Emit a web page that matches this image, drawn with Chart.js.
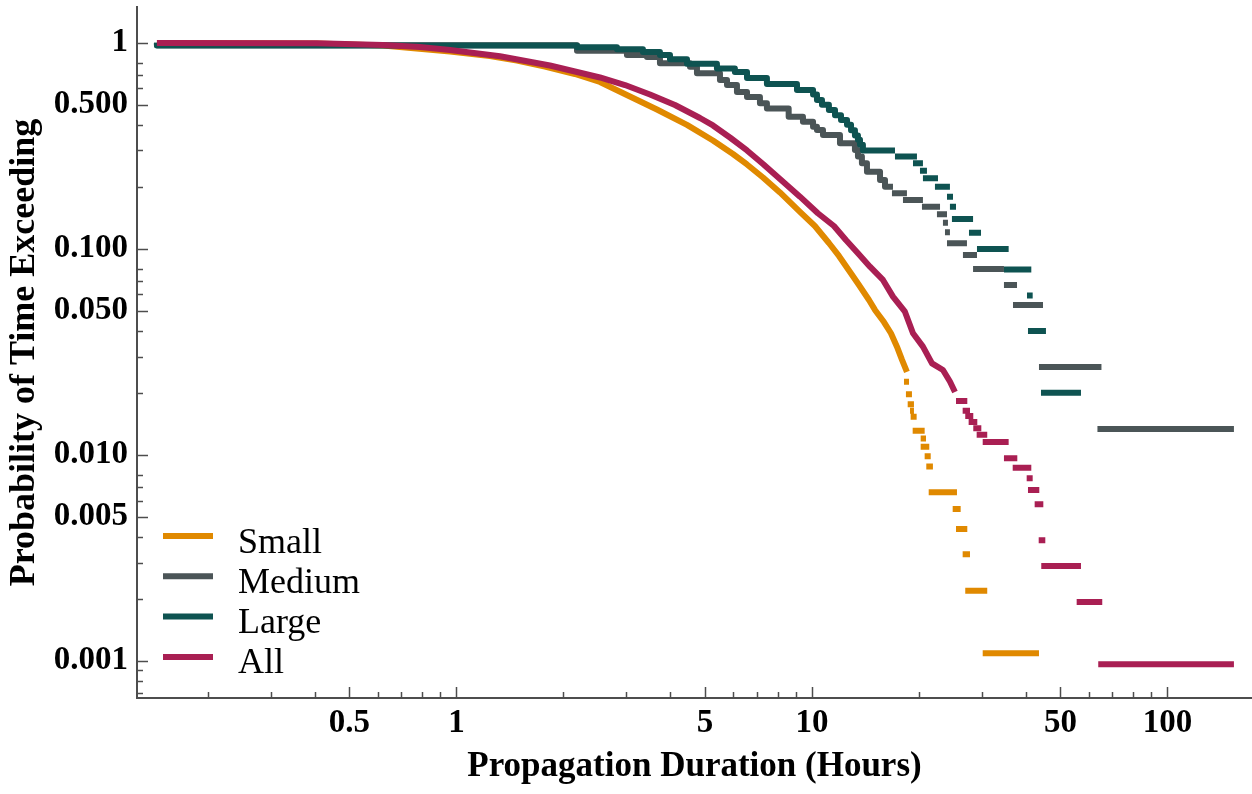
<!DOCTYPE html>
<html lang="en">
<head>
  <meta charset="UTF-8" />
  <title>Propagation Duration</title>
  <script src="https://cdn.jsdelivr.net/npm/chart.js"></script>
  <style>
    html, body { margin: 0; padding: 0; background: #fff; }
    .wrap { width: 1252px; height: 794px; position: relative; }
  </style>
</head>
<body>
  <div class="wrap"><canvas id="ccdf"></canvas></div>

  <script>
    // x = hours, p = probability that the duration is exceeded
    // "curve" = the dense part that reads as one line, "tail" = [start, end, p] steps

    const smallCurveX = [0.1437, 0.405, 0.621, 0.959, 1.242, 1.480, 1.774, 2.154, 2.533, 3.076, 3.664, 4.451, 5.267, 5.996, 6.566, 7.283, 8.128, 9.253, 10.19, 11.16, 11.91, 12.71, 13.56, 14.47, 15.04, 15.94, 16.68, 17.34, 17.92, 18.50];
    const smallCurveP = [0.997, 0.99, 0.969, 0.906, 0.862, 0.820, 0.766, 0.705, 0.645, 0.548, 0.474, 0.399, 0.3354, 0.2884, 0.2565, 0.2218, 0.1876, 0.1509, 0.1290, 0.1067, 0.0923, 0.0785, 0.0667, 0.0564, 0.0505, 0.0441, 0.0389, 0.0335, 0.0289, 0.0253];
    const smallTail = [
      [18.15, 18.75, 0.02265], [18.38, 19.11, 0.01968], [18.59, 19.36, 0.01760], [18.87, 19.36, 0.01639],
      [18.95, 19.70, 0.01532], [19.20, 20.75, 0.01310], [20.22, 20.93, 0.01199], [20.22, 21.38, 0.01096],
      [20.75, 21.58, 0.00985], [20.97, 21.89, 0.00877], [21.30, 25.58, 0.00658], [24.88, 26.20, 0.00546],
      [25.42, 27.35, 0.00437], [26.54, 27.83, 0.00329], [26.99, 31.12, 0.00219], [30.22, 43.51, 0.00109]
    ];

    const mediumCurveX = [0.1437, 2.183, 3.017, 3.435, 3.736, 4.538, 4.748, 5.511, 5.768, 6.152, 6.566, 7.140, 7.470, 8.60, 9.434, 10.07, 10.33, 10.74, 11.99, 13.21, 13.47, 13.82, 14.28, 15.54, 16.05, 16.26, 16.90];
    const mediumCurveP = [1.0, 0.973, 0.915, 0.872, 0.853, 0.795, 0.765, 0.710, 0.659, 0.623, 0.577, 0.545, 0.508, 0.480, 0.4375, 0.413, 0.391, 0.377, 0.357, 0.325, 0.3015, 0.280, 0.260, 0.2366, 0.2157, 0.2001, 0.2001];
    const mediumTail = [
      [16.79, 18.50, 0.1859], [18.03, 20.52, 0.1725], [20.39, 22.92, 0.1600], [22.47, 23.98, 0.1470],
      [23.36, 24.13, 0.1338], [23.67, 24.44, 0.1202], [23.98, 27.29, 0.1063], [26.59, 29.12, 0.0933],
      [28.39, 34.68, 0.0798], [34.68, 37.74, 0.0667], [36.77, 44.66, 0.0534], [43.51, 65.21, 0.0267],
      [63.54, 153.8, 0.01336]
    ];

    const largeCurveX = [0.1437, 2.183, 2.828, 3.346, 3.736, 3.987, 4.451, 5.404, 6.07, 6.566, 7.470, 9.075, 10.07, 10.33, 10.67, 11.16, 11.61, 12.07, 12.55, 12.88, 13.21, 13.47, 13.65, 13.91, 15.23, 17.12];
    const largeCurveP = [1.0, 0.97, 0.95, 0.93, 0.90, 0.872, 0.83, 0.79, 0.75, 0.72, 0.674, 0.63, 0.59, 0.56, 0.527, 0.50, 0.471, 0.445, 0.421, 0.40, 0.376, 0.355, 0.338, 0.32, 0.30, 0.30];
    const largeTail = [
      [17.12, 19.74, 0.280], [19.24, 20.52, 0.260], [20.13, 21.06, 0.239], [20.52, 22.62, 0.220],
      [22.18, 24.44, 0.200], [23.98, 24.93, 0.179], [24.44, 25.42, 0.160], [24.76, 28.39, 0.1395],
      [27.65, 29.89, 0.1197], [29.12, 35.75, 0.0998], [34.68, 41.40, 0.0794], [40.26, 41.77, 0.0593],
      [40.52, 45.52, 0.0399], [44.08, 57.11, 0.0200]
    ];

    const allCurveX = [0.1437, 0.405, 0.621, 0.789, 0.959, 1.326, 1.832, 2.533, 2.979, 3.502, 4.117, 4.842, 5.267, 5.879, 6.566, 7.283, 8.128, 9.253, 10.39, 11.53, 12.46, 13.47, 14.56, 15.84, 16.90, 18.26, 19.24, 20.52, 21.76, 23.36, 24.44, 25.25];
    const allCurveP = [0.996, 0.993, 0.9746, 0.953, 0.922, 0.859, 0.775, 0.678, 0.623, 0.5606, 0.4985, 0.431, 0.3966, 0.3467, 0.2999, 0.258, 0.2182, 0.179, 0.1487, 0.129, 0.1103, 0.0951, 0.0819, 0.0706, 0.0586, 0.0495, 0.0389, 0.0335, 0.0278, 0.0258, 0.0227, 0.0202];
    const allTail = [
      [25.42, 27.35, 0.01826], [26.54, 27.83, 0.01639], [26.99, 28.43, 0.01544], [27.59, 29.18, 0.01444],
      [28.43, 29.95, 0.01346], [29.06, 31.12, 0.01253], [30.22, 35.75, 0.01155], [34.68, 37.81, 0.00963],
      [36.70, 41.40, 0.00867], [40.18, 41.77, 0.00770], [40.52, 43.60, 0.00676], [42.31, 44.75, 0.00576],
      [43.43, 45.33, 0.00385], [44.16, 57.11, 0.00289], [55.54, 65.55, 0.00193], [63.87, 153.8, 0.000964]
    ];

    // axis ticks
    const xMajor = [0.5, 1, 5, 10, 50, 100];
    const xMajorLabels = ['0.5', '1', '5', '10', '50', '100'];
    const xMinor = [0.2, 0.3, 0.4, 0.6, 0.7, 0.8, 0.9, 2, 3, 4, 6, 7, 8, 9, 20, 30, 40, 60, 70, 80, 90];
    const yMajor = [0.001, 0.005, 0.01, 0.05, 0.1, 0.5, 1];
    const yMajorLabels = ['0.001', '0.005', '0.010', '0.050', '0.100', '0.500', '1'];
    const yMinor = [0.0007, 0.0008, 0.0009, 0.002, 0.003, 0.004, 0.006, 0.007, 0.008, 0.02, 0.03, 0.04, 0.06, 0.07, 0.08, 0.2, 0.3, 0.4, 0.6, 0.7, 0.8];

    const seriesNames = ['Small', 'Medium', 'Large', 'All'];
    const seriesColors = ['#e08900', '#4b5557', '#0e5351', '#a91f53'];

    function buildPoints(curveX, curveP, tail) {
      const pts = curveX.map((x, i) => ({ x: x, y: curveP[i] }));
      tail.forEach(([x0, x1, p]) => {
        pts.push({ x: x0, y: null });
        pts.push({ x: x0, y: p }, { x: x1, y: p });
      });
      return pts;
    }

    function findIndex(v, list) {
      return list.findIndex(m => Math.abs(v - m) / m < 1e-6);
    }

    const serif = 'Liberation Serif, Times New Roman, serif';

    // ticks drawn inside the plot, long for labelled values
    const inwardTicks = {
      id: 'inwardTicks',
      afterDatasetsDraw(chart) {
        const { ctx, chartArea, scales } = chart;
        ctx.save();
        ctx.strokeStyle = '#4d4d4d';
        ctx.lineWidth = 1.5;
        scales.x.ticks.forEach(t => {
          const px = Math.round(scales.x.getPixelForValue(t.value)) + 0.5;
          const len = findIndex(t.value, xMajor) >= 0 ? 11 : 6;
          ctx.beginPath();
          ctx.moveTo(px, chartArea.bottom);
          ctx.lineTo(px, chartArea.bottom - len);
          ctx.stroke();
        });
        scales.y.ticks.forEach(t => {
          const py = Math.round(scales.y.getPixelForValue(t.value)) + 0.5;
          const len = findIndex(t.value, yMajor) >= 0 ? 11 : 6;
          ctx.beginPath();
          ctx.moveTo(chartArea.left, py);
          ctx.lineTo(chartArea.left + len, py);
          ctx.stroke();
        });
        ctx.restore();
      }
    };

    // legend sits inside the plot, bottom left
    const innerLegend = {
      id: 'innerLegend',
      afterDraw(chart) {
        const { ctx, chartArea } = chart;
        ctx.save();
        ctx.font = '36px ' + serif;
        ctx.textBaseline = 'alphabetic';
        ctx.fillStyle = '#000';
        seriesNames.forEach((name, i) => {
          const y = 536 + i * 40.3;
          ctx.strokeStyle = seriesColors[i];
          ctx.lineWidth = 6;
          ctx.beginPath();
          ctx.moveTo(chartArea.left + 26, y);
          ctx.lineTo(chartArea.left + 76, y);
          ctx.stroke();
          ctx.fillText(name, chartArea.left + 101, y + 16.5);
        });
        ctx.restore();
      }
    };

    const curves = [
      [smallCurveX, smallCurveP, smallTail, false],
      [mediumCurveX, mediumCurveP, mediumTail, 'after'],
      [largeCurveX, largeCurveP, largeTail, 'after'],
      [allCurveX, allCurveP, allTail, false]
    ];

    new Chart(document.getElementById('ccdf'), {
      type: 'scatter',
      data: {
        datasets: curves.map((c, i) => ({
          label: seriesNames[i],
          data: buildPoints(c[0], c[1], c[2]),
          showLine: true,
          stepped: c[3],
          spanGaps: false,
          borderColor: seriesColors[i],
          backgroundColor: seriesColors[i],
          borderWidth: 6,
          borderCapStyle: 'butt',
          borderJoinStyle: 'round',
          pointRadius: 0,
          order: 4 - i
        }))
      },
      options: {
        responsive: true,
        maintainAspectRatio: false,
        animation: false,
        devicePixelRatio: 1,
        layout: { padding: { top: 7, right: 0, bottom: 0, left: 0 } },
        plugins: {
          legend: { display: false },
          tooltip: { enabled: false }
        },
        scales: {
          x: {
            type: 'logarithmic',
            position: 'bottom',
            min: 0.1263,
            max: 172.9,
            grid: { display: false, drawTicks: false },
            border: { display: true, color: '#4d4d4d', width: 2 },
            ticks: {
              autoSkip: false,
              maxRotation: 0,
              padding: 6,
              color: '#000',
              font: { family: serif, weight: 'bold', size: 33 },
              callback: (v) => {
                const k = findIndex(v, xMajor);
                return k >= 0 ? xMajorLabels[k] : '';
              }
            },
            afterBuildTicks: (s) => {
              s.ticks = xMinor.concat(xMajor).sort((a, b) => a - b).map(v => ({ value: v }));
            },
            afterFit: (s) => {
              s.height = 96;
              s.paddingLeft = 0;
              s.paddingRight = 0;
            },
            title: {
              display: true,
              text: 'Propagation Duration (Hours)',
              color: '#000',
              font: { family: serif, weight: 'bold', size: 35 },
              padding: { top: 0, bottom: 6 }
            }
          },
          y: {
            type: 'logarithmic',
            position: 'left',
            min: 0.000661,
            max: 1.49,
            grid: { display: false, drawTicks: false },
            border: { display: true, color: '#4d4d4d', width: 2 },
            ticks: {
              autoSkip: false,
              padding: 9,
              color: '#000',
              font: { family: serif, weight: 'bold', size: 33 },
              callback: (v) => {
                const k = findIndex(v, yMajor);
                return k >= 0 ? yMajorLabels[k] : '';
              }
            },
            afterBuildTicks: (s) => {
              s.ticks = yMinor.concat(yMajor).sort((a, b) => a - b).map(v => ({ value: v }));
            },
            afterFit: (s) => {
              s.width = 137;
              s.paddingTop = 0;
              s.paddingBottom = 0;
            },
            title: {
              display: true,
              text: 'Probability of Time Exceeding',
              color: '#000',
              font: { family: serif, weight: 'bold', size: 36 },
              padding: { top: 3, bottom: 0 }
            }
          }
        }
      },
      plugins: [inwardTicks, innerLegend]
    });
  </script>
</body>
</html>
